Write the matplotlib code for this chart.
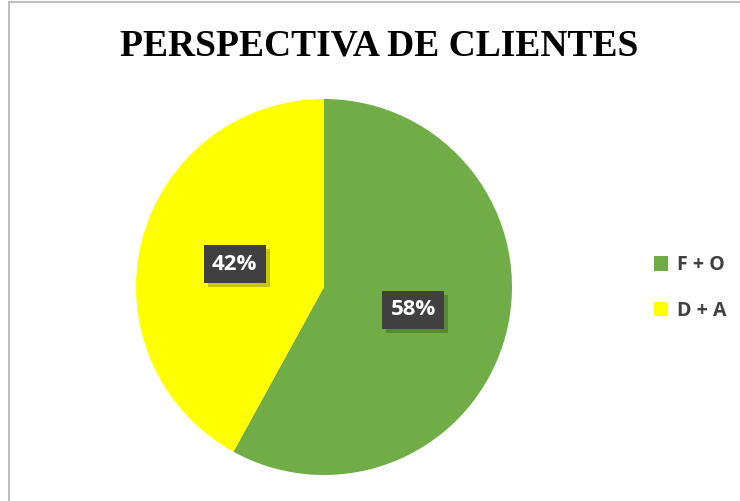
import matplotlib.pyplot as plt
from matplotlib.lines import Line2D
import matplotlib.patheffects as pe

labels = ['F + O', 'D + A']
values = [58, 42]
colors = ['#70AD47', '#FFFF00']

fig = plt.figure(figsize=(7.4, 5.01), dpi=100)
fig.patch.set_facecolor('white')

# chart frame (only left and top visible)
fig.add_artist(Line2D([9/740, 9/740], [0, 1 - 2/501], color='#BFBFBF', lw=1.5))
fig.add_artist(Line2D([9/740, 1], [1 - 2/501, 1 - 2/501], color='#BFBFBF', lw=1.5))

cx, cy, r = 324, 287, 188
ax = fig.add_axes([(cx - r)/740, (501 - cy - r)/501, 2*r/740, 2*r/501])
wedges, texts, autotexts = ax.pie(values, colors=colors, startangle=90, counterclock=False,
                                  autopct='%1.0f%%', pctdistance=0.49, radius=1,
                                  wedgeprops=dict(linewidth=0))
for t in autotexts:
    t.set_color('white')
    t.set_fontsize(16)
    t.set_fontweight('bold')
    t.set_fontfamily('Open Sans')
    t.set_bbox(dict(boxstyle='square,pad=0.38', facecolor='#404040', edgecolor='none',
                    path_effects=[pe.SimplePatchShadow(offset=(3, -3), shadow_rgbFace='#000000', alpha=0.22),
                                  pe.Normal()]))
ax.set_xlim(-1, 1)
ax.set_ylim(-1, 1)
ax.set_aspect('equal')

fig.text(379/740, 1 - 46/501, 'PERSPECTIVA DE CLIENTES', ha='center', va='center',
         fontsize=27, fontweight='bold', family='Liberation Serif')

leg = fig.legend(wedges, labels, loc='center left', bbox_to_anchor=(636/740, 1 - 288/501),
                 frameon=False, handlelength=0.75, handleheight=0.75, handletextpad=0.45,
                 labelspacing=1.3, prop={'family': 'Open Sans', 'weight': 'bold', 'size': 14})
for t in leg.get_texts():
    t.set_color('#404040')

fig.savefig('out.png', dpi=100)
